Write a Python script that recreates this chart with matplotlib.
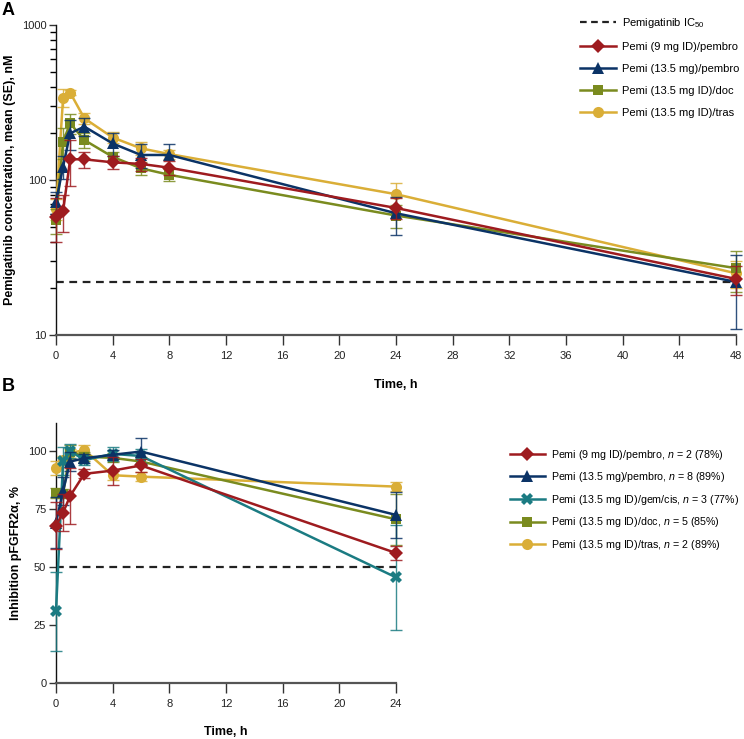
import matplotlib
matplotlib.use("Agg")
import matplotlib.pyplot as plt
import numpy as np
from matplotlib.lines import Line2D

plt.rcParams['font.family'] = ['Liberation Sans', 'DejaVu Sans']
plt.rcParams['mathtext.fontset'] = 'custom'
plt.rcParams['mathtext.rm'] = 'Liberation Sans'
plt.rcParams['mathtext.it'] = 'Liberation Sans:italic'

# ---------------- Panel A data ----------------
times_a = [0, 0.5, 1, 2, 4, 6, 8, 24, 48]
ic50 = 22
labels_a = ["Pemi (9 mg ID)/pembro", "Pemi (13.5 mg)/pembro",
            "Pemi (13.5 mg ID)/doc", "Pemi (13.5 mg ID)/tras"]
red_a = [58, 63, 136, 136, 130, 127, 120, 66, 23]
red_a_se = [18, 17, 45, 16, 13, 12, 12, 10, 5]
blue_a = [72, 122, 200, 221, 172, 145, 145, 61, 22]
blue_a_se = [12, 20, 45, 30, 30, 25, 25, 17, 11]
green_a = [55, 177, 232, 181, 141, 119, 108, 59, 27]
green_a_se = [10, 40, 35, 20, 10, 12, 10, 10, 8]
yellow_a = [65, 340, 366, 250, 188, 160, 147, 81, 25]
yellow_a_se = [10, 45, 15, 20, 15, 15, 10, 15, 5]

# ---------------- Panel B data ----------------
times_b = [0, 0.5, 1, 2, 4, 6, 24]
threshold_b = 50
labels_b = ["Pemi (9 mg ID)/pembro, $n$ = 2 (78%)",
            "Pemi (13.5 mg)/pembro, $n$ = 8 (89%)",
            "Pemi (13.5 mg ID)/gem/cis, $n$ = 3 (77%)",
            "Pemi (13.5 mg ID)/doc, $n$ = 5 (85%)",
            "Pemi (13.5 mg ID)/tras, $n$ = 2 (89%)"]
red_b = [67.8, 73.4, 80.6, 90.1, 91.5, 93.7, 56]
red_b_se = [10, 8, 12, 2, 6, 3, 3]
blue_b = [69, 82.8, 95.4, 96.8, 98.3, 99.7, 72.4]
blue_b_se = [11, 6, 4, 2, 2, 6, 10]
teal_b = [31, 95.7, 100, 96, 98.7, 97.8, 45.5]
teal_b_se = [17, 6, 3, 2, 3, 3, 22.5]
green_b = [81.8, 81.6, 99.7, 97.5, 97, 95.4, 70.5]
green_b_se = [2, 2, 3, 2, 2, 2, 11]
yellow_b = [92.8, 96, 99, 100.4, 89.5, 88.9, 84.6]
yellow_b_se = [3, 2, 2, 2, 2, 2, 2]

RED = '#9E1B1F'
BLUE = '#0B3366'
TEAL = '#1B7B82'
GREEN = '#7A8B1F'
YELLOW = '#DAAE37'

fig = plt.figure(figsize=(7.44, 7.39), dpi=100)
W, H = 744, 739

def ax_rect(x0, y0, x1, y1):
    return [x0 / W, 1 - y1 / H, (x1 - x0) / W, (y1 - y0) / H]

axA = fig.add_axes(ax_rect(56, 25, 736, 335))
axB = fig.add_axes(ax_rect(56, 423, 396, 683))

def plot_series(ax, t, y, se, color, marker, ms, label, z):
    ax.errorbar(t, y, yerr=se, fmt='none', ecolor=color, elinewidth=1.0,
                capsize=4, capthick=1.0, zorder=z, clip_on=False, alpha=0.85)
    ax.plot(t, y, color=color, lw=1.8, marker=marker, ms=ms, mew=0,
            label=label, zorder=z + 0.5, clip_on=False)

# Panel A
axA.axhline(ic50, xmin=0, xmax=1, color='#222222', ls=(0, (3.5, 2.5)), lw=1.6, zorder=1)
series_a = [(yellow_a, yellow_a_se, YELLOW, 'o', 8, labels_a[3]),
            (green_a, green_a_se, GREEN, 's', 7, labels_a[2]),
            (blue_a, blue_a_se, BLUE, '^', 8, labels_a[1]),
            (red_a, red_a_se, RED, 'D', 7, labels_a[0])]
for i, (y, se, c, m, ms, lab) in enumerate(series_a):
    plot_series(axA, times_a, y, se, c, m, ms, lab, 3 + i)

axA.set_yscale('log')
axA.set_ylim(10, 1000)
axA.set_xlim(0, 48)
axA.set_xticks(np.arange(0, 49, 4))
axA.set_yticks([10, 100, 1000])
axA.set_yticklabels(['10', '100', '1000'])
axA.set_ylabel('Pemigatinib concentration, mean (SE), nM', fontsize=9, fontweight='bold', labelpad=4)
axA.set_xlabel('Time, h', fontsize=9, fontweight='bold', labelpad=13)

handles_a = [Line2D([], [], color='#222222', ls=(0, (3, 2)), lw=1.6)]
hA, lA = axA.get_legend_handles_labels()
handles_a += [hA[lA.index(l)] for l in labels_a]
axA.legend(handles_a, ["Pemigatinib IC$_{50}$"] + labels_a, loc='upper left',
           bbox_to_anchor=(570 / W, 1 - 6 / H), bbox_transform=fig.transFigure,
           frameon=False, fontsize=8, handlelength=3.2, labelspacing=1.08,
           handletextpad=0.6)

# Panel B
axB.plot([0, 24], [threshold_b, threshold_b], color='#222222', ls=(0, (3.5, 2.5)), lw=1.6, zorder=1)
series_b = [(yellow_b, yellow_b_se, YELLOW, 'o', 8, labels_b[4]),
            (green_b, green_b_se, GREEN, 's', 7, labels_b[3]),
            (teal_b, teal_b_se, TEAL, 'X', 8.5, labels_b[2]),
            (blue_b, blue_b_se, BLUE, '^', 8, labels_b[1]),
            (red_b, red_b_se, RED, 'D', 7, labels_b[0])]
for i, (y, se, c, m, ms, lab) in enumerate(series_b):
    plot_series(axB, times_b, y, se, c, m, ms, lab, 3 + i)

axB.set_ylim(0, 112)
axB.set_xlim(0, 24)
axB.set_xticks(np.arange(0, 25, 4))
axB.set_yticks([0, 25, 50, 75, 100])
axB.set_ylabel('Inhibition pFGFR2α, %', fontsize=9, fontweight='bold', labelpad=4)
axB.set_xlabel('Time, h', fontsize=9, fontweight='bold', labelpad=12)

hB, lB = axB.get_legend_handles_labels()
handles_b = [hB[lB.index(l)] for l in labels_b]
fig.legend(handles_b, labels_b, loc='upper left',
           bbox_to_anchor=(500 / W, 1 - 438 / H), frameon=False, fontsize=7.7,
           handlelength=3.3, labelspacing=0.8, handletextpad=0.6)

for ax in (axA, axB):
    for s in ('top', 'right'):
        ax.spines[s].set_visible(False)
    ax.spines['left'].set_color('#111111')
    ax.spines['left'].set_linewidth(1.0)
    ax.spines['bottom'].set_color('#555555')
    ax.spines['bottom'].set_linewidth(1.6)
    ax.tick_params(axis='x', direction='out', length=7, width=1.0, colors='#333333',
                   labelsize=8, pad=4.5, labelcolor='#222222')
    ax.tick_params(axis='y', direction='out', length=5, width=1.0, colors='#333333',
                   labelsize=8, pad=2, labelcolor='#222222')
axA.tick_params(axis='y', which='minor', length=4, width=1.0)

fig.text(2 / W, 1 - 2 / H, 'A', fontsize=13, fontweight='bold', va='top', ha='left')
fig.text(2 / W, 1 - 378 / H, 'B', fontsize=13, fontweight='bold', va='top', ha='left')

fig.savefig('out.png', dpi=100)
